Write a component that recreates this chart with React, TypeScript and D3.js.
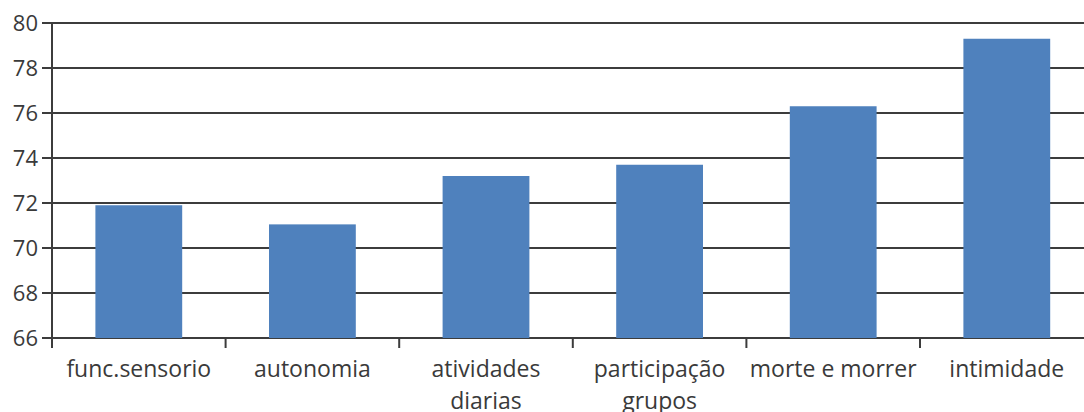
import React, { useEffect, useRef } from "react";
import * as d3 from "d3";

// Category labels ("\n" marks a line break under the axis)
const categories = [
  "func.sensorio",
  "autonomia",
  "atividades\ndiarias",
  "participação\ngrupos",
  "morte e morrer",
  "intimidade",
];
const values = [71.9, 71.05, 73.2, 73.7, 76.3, 79.3];
const yTicks = [66, 68, 70, 72, 74, 76, 78, 80];

const W = 1084;
const H = 412;

export default function App() {
  const ref = useRef<SVGSVGElement | null>(null);

  useEffect(() => {
    const svg = d3.select(ref.current);
    svg.selectAll("*").remove();

    const left = 52;
    const top = 23;
    const bottom = 338;
    const bandW = 173.6;
    const font = "'Open Sans', sans-serif";
    const textColor = "#3a3a3a";
    const lineColor = "#3c3c3c";

    const x = d3
      .scaleBand<string>()
      .domain(categories)
      .range([left, left + bandW * categories.length])
      .paddingInner(0.5)
      .paddingOuter(0.25);

    const y = d3.scaleLinear().domain([66, 80]).range([bottom, top]);

    // horizontal gridlines
    svg
      .append("g")
      .selectAll("line")
      .data(yTicks)
      .join("line")
      .attr("x1", left)
      .attr("x2", W)
      .attr("y1", (d) => y(d))
      .attr("y2", (d) => y(d))
      .attr("stroke", lineColor)
      .attr("stroke-width", 2);

    // bars
    svg
      .append("g")
      .selectAll("rect")
      .data(values)
      .join("rect")
      .attr("x", (_, i) => x(categories[i])!)
      .attr("width", x.bandwidth())
      .attr("y", (d) => y(d))
      .attr("height", (d) => y(66) - y(d))
      .attr("fill", "#4F81BD");

    // y axis line, ticks and labels
    svg
      .append("line")
      .attr("x1", left)
      .attr("x2", left)
      .attr("y1", y(80))
      .attr("y2", bottom + 10)
      .attr("stroke", lineColor)
      .attr("stroke-width", 2);

    const yg = svg.append("g");
    yg.selectAll("line")
      .data(yTicks)
      .join("line")
      .attr("x1", left - 10)
      .attr("x2", left)
      .attr("y1", (d) => y(d))
      .attr("y2", (d) => y(d))
      .attr("stroke", lineColor)
      .attr("stroke-width", 2);
    yg.selectAll("text")
      .data(yTicks)
      .join("text")
      .attr("x", left - 14)
      .attr("y", (d) => y(d))
      .attr("dy", "0.36em")
      .attr("text-anchor", "end")
      .attr("font-family", font)
      .attr("font-size", 22)
      .attr("fill", textColor)
      .text((d) => d);

    // x axis ticks at band boundaries
    const bounds = d3.range(categories.length + 1).map((i) => left + i * bandW);
    svg
      .append("g")
      .selectAll("line")
      .data(bounds)
      .join("line")
      .attr("x1", (d) => d)
      .attr("x2", (d) => d)
      .attr("y1", bottom)
      .attr("y2", bottom + 10)
      .attr("stroke", lineColor)
      .attr("stroke-width", 2);

    // category labels
    const lg = svg.append("g");
    categories.forEach((c) => {
      const cx = x(c)! + x.bandwidth() / 2;
      const t = lg
        .append("text")
        .attr("text-anchor", "middle")
        .attr("font-family", font)
        .attr("font-size", 23)
        .attr("fill", textColor);
      c.split("\n").forEach((line, j) => {
        t.append("tspan")
          .attr("x", cx)
          .attr("y", 377 + j * 31.5)
          .text(line);
      });
    });
  }, []);

  return (
    <svg
      ref={ref}
      width={W}
      height={H}
      style={{ position: "absolute", left: 0, top: 0, background: "#fff" }}
    />
  );
}
